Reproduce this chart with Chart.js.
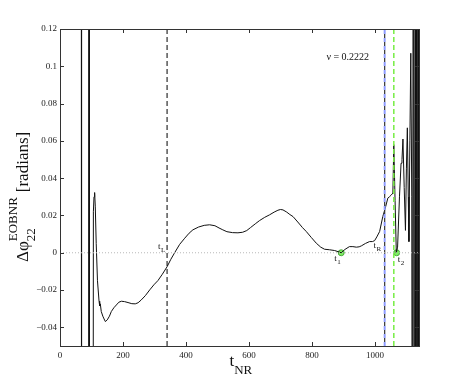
<!DOCTYPE html>
<html>
<head>
<meta charset="utf-8">
<script src="https://cdn.jsdelivr.net/npm/chart.js@4.4.0/dist/chart.umd.min.js"></script>
<style>
  body { margin: 0; background: #fff; }
  #phaseChart { display: block; }
</style>
</head>
<body>
<canvas id="phaseChart" width="463" height="389"></canvas>
<script>
// phase difference EOBNR - NR
const tNR = [60, 67.5, 68.5, 91.5, 92.2, 92.8, 104.5, 106, 108, 110, 112, 115, 119, 124, 126, 128, 131, 136, 140, 144,
    150, 157, 163, 171, 179, 187, 195, 205, 216, 228, 239, 248, 258, 271, 285, 298, 311, 325, 340, 352,
    364, 380, 396, 410, 422, 440, 458, 475, 492, 505, 517, 530, 548, 565, 580, 593, 605, 620, 634, 650,
    665, 680, 692, 700, 708, 720, 730, 740, 755, 770, 782, 798, 814, 828, 840, 856, 872, 883, 893, 905,
    919, 930, 941, 950, 957, 970, 983, 992, 999, 1006, 1015, 1025, 1033, 1041, 1046, 1052, 1057, 1060, 1064, 1068,
    1072, 1078, 1083, 1086, 1089, 1093, 1097, 1100, 1103, 1106, 1108, 1111, 1114, 1117, 1119, 1122, 1125, 1128, 1130, 1133,
    1135, 1137, 1139];
const dPhi = [0.5, 0.3, -0.3, -0.3, 0.3, -0.3, -0.3, 0.022, 0.030, 0.0323, 0.025, 0.005, -0.015, -0.026, -0.0285, -0.0274, -0.0315, -0.034, -0.0355, -0.0369,
    -0.036, -0.034, -0.0315, -0.0295, -0.028, -0.0265, -0.026, -0.0262, -0.0267, -0.0273, -0.0274, -0.0268, -0.0253, -0.023, -0.0199, -0.0172, -0.0149, -0.0115, -0.0075, -0.0035,
    0.0, 0.0045, 0.0078, 0.0105, 0.0123, 0.0138, 0.0147, 0.015, 0.0145, 0.0133, 0.0123, 0.0113, 0.0108, 0.0107, 0.011, 0.0119, 0.0135, 0.0155, 0.0173, 0.019,
    0.0203, 0.0218, 0.0228, 0.0232, 0.023, 0.0218, 0.0205, 0.0194, 0.0165, 0.0135, 0.0114, 0.0082, 0.0051, 0.003, 0.0019, 0.0016, 0.0012, 0.0006, 0.0, 0.0018,
    0.0033, 0.0033, 0.003, 0.0032, 0.0037, 0.005, 0.006, 0.006, 0.0065, 0.0085, 0.0114, 0.0194, 0.024, 0.0293, 0.030, 0.031, 0.032, 0.058, 0.028, 0.0,
    0.003, 0.03, 0.048, 0.05, 0.061, 0.035, 0.012, 0.045, 0.067, 0.03, 0.006, 0.06, 0.107, 0.03, -0.2, 0.3, -0.3, 0.3, -0.3, 0.3,
    -0.3, 0.3, -0.3];

// matching points (green markers)
const matchT = [893, 1069];
const matchPhi = [0, 0];

// vertical reference times
const tLine = 340;
const tMerger = 1031;
const tGreen = 1060;

// labelled times t_L, t_1, t_R, t_2
const eventNames = ['L', '1', 'R', '2'];
const eventT = [340, 893, 999, 1069];

const xTicks = [0, 200, 400, 600, 800, 1000];
const yTicks = [-0.04, -0.02, 0, 0.02, 0.04, 0.06, 0.08, 0.1, 0.12];
const yTickLabels = ['\u22120.04', '\u22120.02', '0', '0.02', '0.04', '0.06', '0.08', '0.1', '0.12'];
const xMin = 0, xMax = 1140, yMin = -0.05, yMax = 0.12;
const nuLabel = '\u03bd = 0.2222';

const SERIF = "'Liberation Serif', 'DejaVu Serif', serif";

function vLine(t) {
    return [{ x: t, y: yMin }, { x: t, y: yMax }];
}

const curve = tNR.map((t, i) => ({ x: t, y: dPhi[i] }));
const markers = matchT.map((t, i) => ({ x: t, y: matchPhi[i] }));

// frame, inward ticks, titles and small labels
const decorPlugin = {
    id: 'decor',
    beforeDraw(chart) {
        const ctx = chart.ctx;
        ctx.save();
        ctx.fillStyle = '#fff';
        ctx.fillRect(0, 0, chart.width, chart.height);
        ctx.restore();
    },
    afterDatasetsDraw(chart) {
        const ctx = chart.ctx;
        const a = chart.chartArea;
        const xs = chart.scales.x, ys = chart.scales.y;
        ctx.save();
        ctx.strokeStyle = '#333';
        ctx.lineWidth = 1;
        ctx.strokeRect(Math.round(a.left) + 0.5, Math.round(a.top) + 0.5,
            Math.round(a.right - a.left), Math.round(a.bottom - a.top));
        const tl = 4;
        ctx.beginPath();
        xTicks.forEach(v => {
            const px = Math.round(xs.getPixelForValue(v)) + 0.5;
            ctx.moveTo(px, a.bottom); ctx.lineTo(px, a.bottom - tl);
            ctx.moveTo(px, a.top); ctx.lineTo(px, a.top + tl);
        });
        yTicks.forEach(v => {
            const py = Math.round(ys.getPixelForValue(v)) + 0.5;
            ctx.moveTo(a.left, py); ctx.lineTo(a.left + tl, py);
            ctx.moveTo(a.right, py); ctx.lineTo(a.right - tl, py);
        });
        ctx.stroke();

        ctx.fillStyle = '#111';
        ctx.textBaseline = 'alphabetic';
        ctx.textAlign = 'left';

        // t_L, t_1, t_R, t_2
        const offs = { L: [-9, -4], '1': [-7, 8], R: [-1, -5], '2': [1, 9] };
        const y0 = ys.getPixelForValue(0);
        eventNames.forEach((n, i) => {
            const px = xs.getPixelForValue(eventT[i]) + offs[n][0];
            const py = y0 + offs[n][1];
            ctx.font = '9px ' + SERIF;
            ctx.fillText('t', px, py);
            ctx.font = '7px ' + SERIF;
            ctx.fillText(n, px + 3, py + 3);
        });

        // nu
        ctx.font = '10px ' + SERIF;
        ctx.fillText(nuLabel, xs.getPixelForValue(846), ys.getPixelForValue(0.1034));

        // x title t_NR
        const xt = xs.getPixelForValue(538);
        ctx.font = '17px ' + SERIF;
        ctx.fillText('t', xt, 366);
        const wt = ctx.measureText('t').width;
        ctx.font = '13px ' + SERIF;
        ctx.fillText('NR', xt + wt, 374);

        // y title
        ctx.translate(28, 262);
        ctx.rotate(-Math.PI / 2);
        ctx.font = '17px ' + SERIF;
        ctx.fillText('\u0394\u03c6', 0, 0);
        const w1 = ctx.measureText('\u0394\u03c6').width;
        ctx.font = '13px ' + SERIF;
        ctx.fillText('EOBNR', w1, -11);
        ctx.fillText('22', w1, 7);
        const w2 = ctx.measureText('EOBNR').width;
        ctx.font = '17px ' + SERIF;
        ctx.fillText('[radians]', w1 + w2 + 5, 0);
        ctx.restore();
    }
};

const ctx = document.getElementById('phaseChart').getContext('2d');
const phaseChart = new Chart(ctx, {
    type: 'scatter',
    data: {
        datasets: [
            {   // zero reference
                data: [{ x: xMin, y: 0 }, { x: xMax, y: 0 }],
                showLine: true, borderColor: '#b8b8b8', borderWidth: 1, borderDash: [1, 2],
                pointRadius: 0
            },
            {
                data: vLine(tLine),
                showLine: true, borderColor: '#000', borderWidth: 1, borderDash: [5, 3],
                pointRadius: 0
            },
            {
                data: vLine(tMerger),
                showLine: true, borderColor: '#8f9cff', borderWidth: 2, borderDash: [4, 4],
                pointRadius: 0
            },
            {
                data: vLine(tMerger),
                showLine: true, borderColor: '#333', borderWidth: 1.2, borderDash: [4, 4], borderDashOffset: 4,
                pointRadius: 0
            },
            {
                data: vLine(tGreen),
                showLine: true, borderColor: '#77ee44', borderWidth: 1.5, borderDash: [5, 3],
                pointRadius: 0
            },
            {
                label: 'dphi',
                data: curve,
                showLine: true, borderColor: '#111', borderWidth: 1, tension: 0,
                pointRadius: 0
            },
            {
                data: markers,
                showLine: false, pointRadius: 3, pointStyle: 'circle',
                pointBackgroundColor: '#7cf060', pointBorderColor: '#4caa3c', pointBorderWidth: 1
            }
        ]
    },
    options: {
        responsive: false,
        animation: false,
        devicePixelRatio: 1,
        layout: { padding: { top: 29, right: 44, left: 0, bottom: 0 } },
        plugins: { legend: { display: false }, tooltip: { enabled: false } },
        scales: {
            x: {
                type: 'linear', min: xMin, max: xMax,
                afterBuildTicks: s => { s.ticks = xTicks.map(v => ({ value: v })); },
                afterFit: s => { s.height = 43; },
                grid: { display: false, drawTicks: false },
                border: { display: false },
                ticks: {
                    color: '#222', padding: 4, maxRotation: 0,
                    font: { family: SERIF, size: 9 },
                    callback: v => String(v)
                }
            },
            y: {
                type: 'linear', min: yMin, max: yMax,
                afterBuildTicks: s => { s.ticks = yTicks.map(v => ({ value: v })); },
                afterFit: s => { s.width = 60; },
                grid: { display: false, drawTicks: false },
                border: { display: false },
                ticks: {
                    color: '#222', padding: 3,
                    font: { family: SERIF, size: 9 },
                    callback: (v, i) => yTickLabels[i]
                }
            }
        }
    },
    plugins: [decorPlugin]
});
</script>
</body>
</html>
